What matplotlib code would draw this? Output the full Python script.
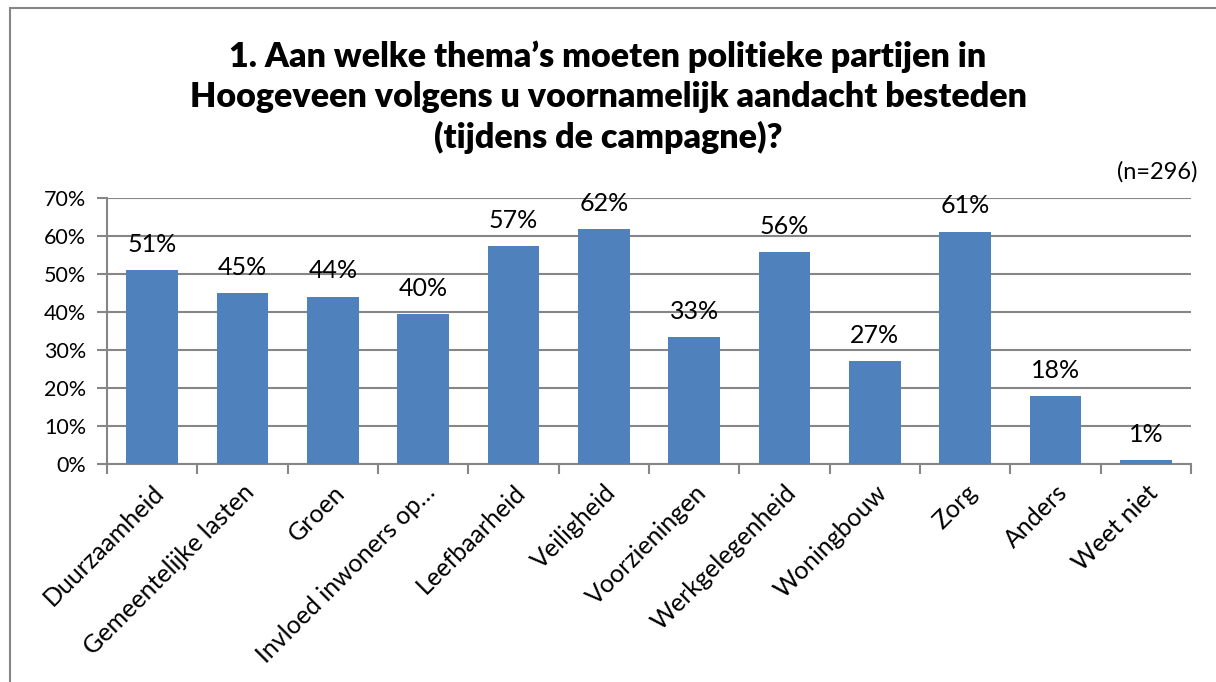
import numpy as np
import matplotlib.pyplot as plt
from matplotlib.patches import Rectangle

categories = ["Duurzaamheid", "Gemeentelijke lasten", "Groen", "Invloed inwoners op…",
              "Leefbaarheid", "Veiligheid", "Voorzieningen", "Werkgelegenheid",
              "Woningbouw", "Zorg", "Anders", "Weet niet"]
values = [51.0, 45.0, 44.0, 39.5, 57.4, 61.8, 33.4, 55.8, 27.1, 61.1, 17.9, 1.0]
labels = ["51%", "45%", "44%", "40%", "57%", "62%", "33%", "56%", "27%", "61%", "18%", "1%"]
yticks = [0, 10, 20, 30, 40, 50, 60, 70]

plt.rcParams['font.family'] = ['Lato', 'DejaVu Sans']
grey = "#868686"

fig = plt.figure(figsize=(12.16, 6.82), dpi=100)
fig.patches.append(Rectangle((10 / 1216, -0.01), 1.1, 1 - 8 / 682 + 0.01,
                             transform=fig.transFigure, fill=False,
                             edgecolor=grey, linewidth=1.5))

ax = fig.add_axes([107 / 1216, 1 - 464 / 682, (1191 - 107) / 1216, (464 - 198) / 682])
x = np.arange(len(categories))
ax.bar(x, values, width=0.57, color="#4F81BD", zorder=3)

for xi, v, lab in zip(x, values, labels):
    ax.text(xi, v + 6.8, lab, ha="center", va="center", fontsize=18)

ax.set_xlim(-0.5, len(categories) - 0.5)
ax.set_ylim(0, 70)
ax.set_yticks(yticks)
ax.set_yticklabels([f"{t}%" for t in yticks], fontsize=15.5)
ax.yaxis.grid(True, color=grey, linewidth=1.5, zorder=0)
ax.tick_params(axis="y", length=7, width=1.5, color=grey, pad=8)

ax.set_xticks(np.arange(len(categories) + 1) - 0.5)
ax.set_xticklabels([])
ax.tick_params(axis="x", length=7, width=1.5, color=grey)
ax.set_xticks(x, minor=True)
ax.set_xticklabels(categories, minor=True, rotation=45, ha="right",
                   rotation_mode="anchor", fontsize=18)
ax.tick_params(axis="x", which="minor", length=0, pad=12)

for s in ["top", "right"]:
    ax.spines[s].set_visible(False)
for s in ["left", "bottom"]:
    ax.spines[s].set_color(grey)
    ax.spines[s].set_linewidth(1.5)

fig.text(608 / 1216, 1 - 97 / 682,
         "1. Aan welke thema’s moeten politieke partijen in\n"
         "Hoogeveen volgens u voornamelijk aandacht besteden\n"
         "(tijdens de campagne)?",
         ha="center", va="center", fontsize=24.5, fontweight="heavy", linespacing=1.3)
fig.text(1198 / 1216, 1 - 172 / 682, "(n=296)", ha="right", va="center", fontsize=17)

fig.savefig("out.png", dpi=100)
